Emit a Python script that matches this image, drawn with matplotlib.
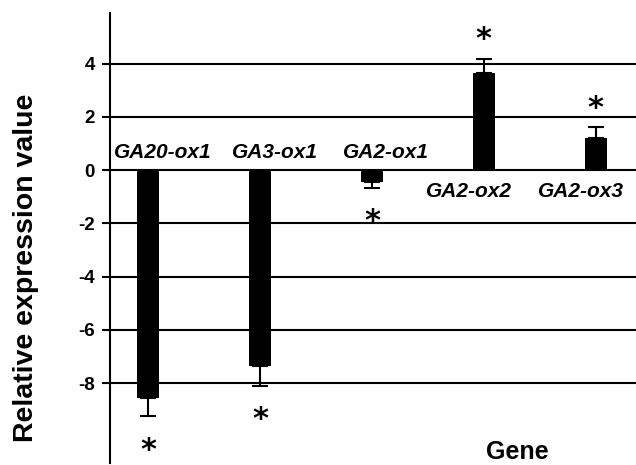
import matplotlib
matplotlib.use("Agg")
from matplotlib import pyplot as plt
from matplotlib.ticker import FuncFormatter

genes = ["GA20-ox1", "GA3-ox1", "GA2-ox1", "GA2-ox2", "GA2-ox3"]
values = [-8.55, -7.37, -0.45, 3.66, 1.22]
errors = [0.70, 0.72, 0.21, 0.51, 0.39]
yticks = [-8, -6, -4, -2, 0, 2, 4]

plt.rcParams['font.family'] = ['Liberation Sans', 'DejaVu Sans']

fig = plt.figure(figsize=(6.36, 4.65), dpi=100)
ax = fig.add_axes([110 / 636, 2 / 465, 1 - 110 / 636, 450 / 465])

x = list(range(len(genes)))
for i, (v, e) in enumerate(zip(values, errors)):
    low = [e] if v < 0 else [0]
    high = [e] if v > 0 else [0]
    ax.errorbar(i, v, yerr=[low, high], fmt='none', ecolor='black',
                elinewidth=1.5, capsize=6, capthick=1.5, zorder=3)
ax.bar(x, values, width=0.2, color='black', zorder=4)

# significance asterisks beyond the error bars
for i, (v, e) in enumerate(zip(values, errors)):
    sign = 1 if v > 0 else -1
    ax.text(i, v + sign * (e + 1.0) - 0.28, "*", ha='center', va='center',
            fontsize=22, fontweight='bold', family='DejaVu Sans', zorder=5)

# gene labels
for i, (g, v) in enumerate(zip(genes, values)):
    if v < 0:
        ax.text(i + 0.13, 0.45, g, ha='center', va='baseline', fontsize=15,
                fontweight='bold', fontstyle='italic')
    else:
        ax.text(i - 0.13, -1.0, g, ha='center', va='baseline', fontsize=15,
                fontweight='bold', fontstyle='italic')

for t in yticks:
    ax.axhline(t, color='black', linewidth=1.5, zorder=1)

ax.set_xlim(-0.34, 4.36)
ax.set_ylim(-11, 5.9)
ax.set_yticks(yticks)
ax.yaxis.set_major_formatter(FuncFormatter(lambda v, p: "%d" % v))
ax.set_xticks([])
for s in ['top', 'right', 'bottom']:
    ax.spines[s].set_visible(False)
ax.spines['left'].set_linewidth(1.5)
ax.tick_params(axis='y', direction='out', length=6, width=1.5, pad=5,
               labelsize=13.5)
for lbl in ax.get_yticklabels():
    lbl.set_fontweight('bold')

fig.text(26 / 636, 1 - 268 / 465, "Relative expression value", rotation=90,
         ha='center', va='center', fontsize=20.5, fontweight='bold')
fig.text(517 / 636, 1 - 452 / 465, "Gene", ha='center', va='center',
         fontsize=18, fontweight='bold')

fig.savefig("out.png", dpi=100)
